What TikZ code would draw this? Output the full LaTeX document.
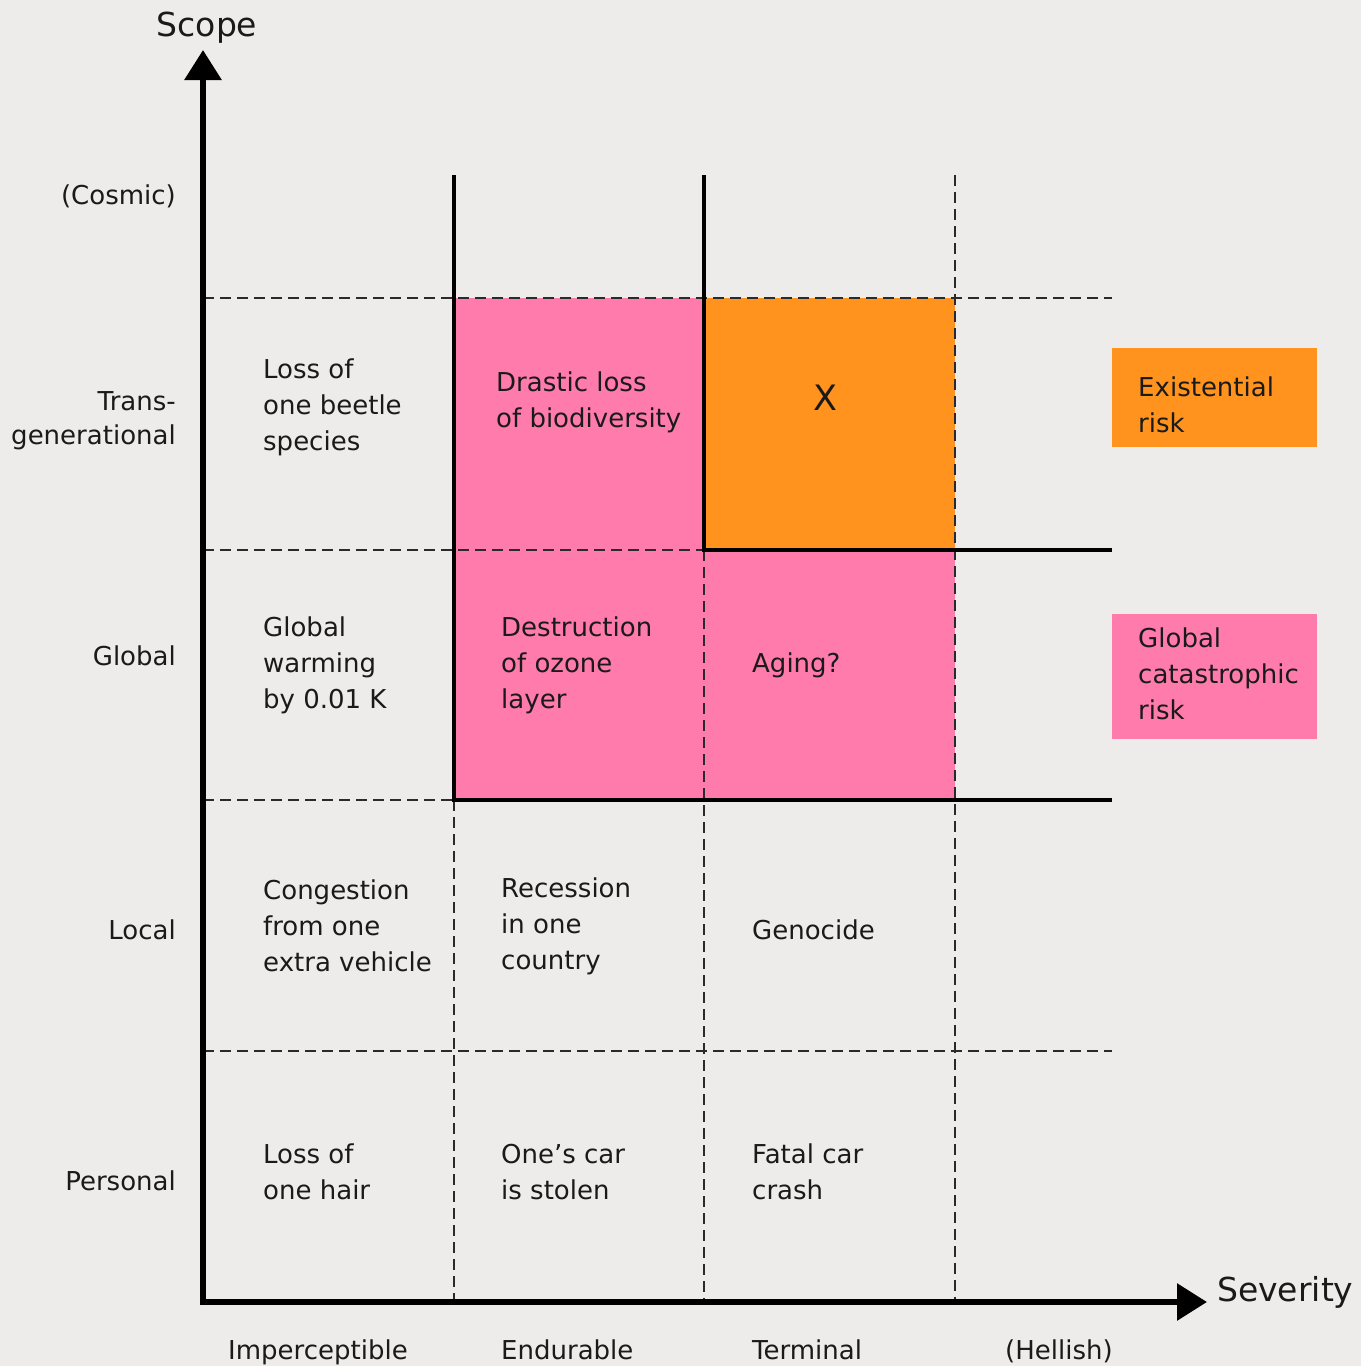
\documentclass[tikz,border=0pt]{standalone}
\usepackage{fontspec}
\setmainfont{DejaVu Sans}
\usetikzlibrary{arrows.meta}
\definecolor{bg}{HTML}{EDECEA}
\definecolor{pinkc}{HTML}{FF7BAC}
\definecolor{orangec}{HTML}{FF931E}
\definecolor{txt}{HTML}{1A1A1A}
\definecolor{dashc}{HTML}{2A2A2A}
\begin{document}
\begin{tikzpicture}[x=1pt,y=-1pt,
  lbl/.style={font=\fontsize{26}{36}\selectfont, text=txt, align=left, inner sep=0pt, anchor=west},
  rowlbl/.style={font=\fontsize{26}{34}\selectfont, text=txt, align=right, inner sep=0pt, anchor=east},
  axlbl/.style={font=\fontsize{33}{40}\selectfont, text=txt, inner sep=0pt},
  axis/.style={line width=6pt, -{Triangle[length=30pt,width=36pt]}},
  gridl/.style={line width=2.8pt, draw=dashc, dash pattern=on 11pt off 6pt},
  solidl/.style={line width=4pt, draw=black}]
% canvas
\fill[bg] (0,0) rectangle (1361,1366);
\useasboundingbox (0,0) rectangle (1361,1366);
% coordinates
\coordinate (O) at (203,1302);
\coordinate (Ytip) at (203,50);
\coordinate (Xtip) at (1207,1302);
% fills
\fill[pinkc] (454,298) rectangle (955,800);
\fill[orangec] (704,298) rectangle (955,550);
% legend boxes
\fill[orangec] (1112,348) rectangle (1317,447);
\fill[pinkc] (1112,614) rectangle (1317,739);
% dashed grid
\draw[gridl] (203,298) -- (1112,298);
\draw[gridl] (203,550) -- (704,550);
\draw[gridl] (203,800) -- (454,800);
\draw[gridl] (203,1051) -- (1112,1051);
\draw[gridl] (454,800) -- (454,1302);
\draw[gridl] (704,550) -- (704,1302);
\draw[gridl] (955,175) -- (955,1302);
% solid lines
\draw[solidl] (454,175) -- (454,800) -- (1112,800);
\draw[solidl] (704,175) -- (704,550) -- (1112,550);
% axes
\draw[axis] (203,1305) -- (Ytip);
\draw[axis] (200,1302) -- (Xtip);
\node[axlbl, anchor=south] (scope) at (207,44) {Scope};
\node[axlbl, anchor=west] (sev) at (1217,1292) {Severity};
% row labels
\node[rowlbl] (r1) at (176,196) {(Cosmic)};
\node[rowlbl] (r2) at (176,421) {Trans-\\generational};
\node[rowlbl] (r3) at (176,656) {Global};
\node[rowlbl] (r4) at (176,930) {Local};
\node[rowlbl] (r5) at (176,1181) {Personal};
% column labels
\node[lbl, anchor=base west] (c1) at (228,1359) {Imperceptible};
\node[lbl, anchor=base west] (c2) at (501,1359) {Endurable};
\node[lbl, anchor=base west] (c3) at (752,1359) {Terminal};
\node[lbl, anchor=base west] (c4) at (1005,1359) {(Hellish)};
% cells
\node[lbl] (a1) at (263,407) {Loss of\\one beetle\\species};
\node[lbl] (a2) at (496,402) {Drastic loss\\of biodiversity};
\node[lbl, anchor=center, font=\fontsize{35}{40}\selectfont] (a3) at (825,398) {X};
\node[lbl] (b1) at (263,665) {Global\\warming\\by 0.01 K};
\node[lbl] (b2) at (501,665) {Destruction\\of ozone\\layer};
\node[lbl] (b3) at (752,665) {Aging?};
\node[lbl] (d1) at (263,926) {Congestion\\from one\\extra vehicle};
\node[lbl] (d2) at (501,926) {Recession\\in one\\country};
\node[lbl] (d3) at (752,930) {Genocide};
\node[lbl] (e1) at (263,1172) {Loss of\\one hair};
\node[lbl] (e2) at (501,1172) {One’s car\\is stolen};
\node[lbl] (e3) at (752,1172) {Fatal car\\crash};
% legend texts
\node[lbl] (l1) at (1138,405) {Existential\\risk};
\node[lbl] (l2) at (1138,674) {Global\\catastrophic\\risk};
\end{tikzpicture}
\end{document}
